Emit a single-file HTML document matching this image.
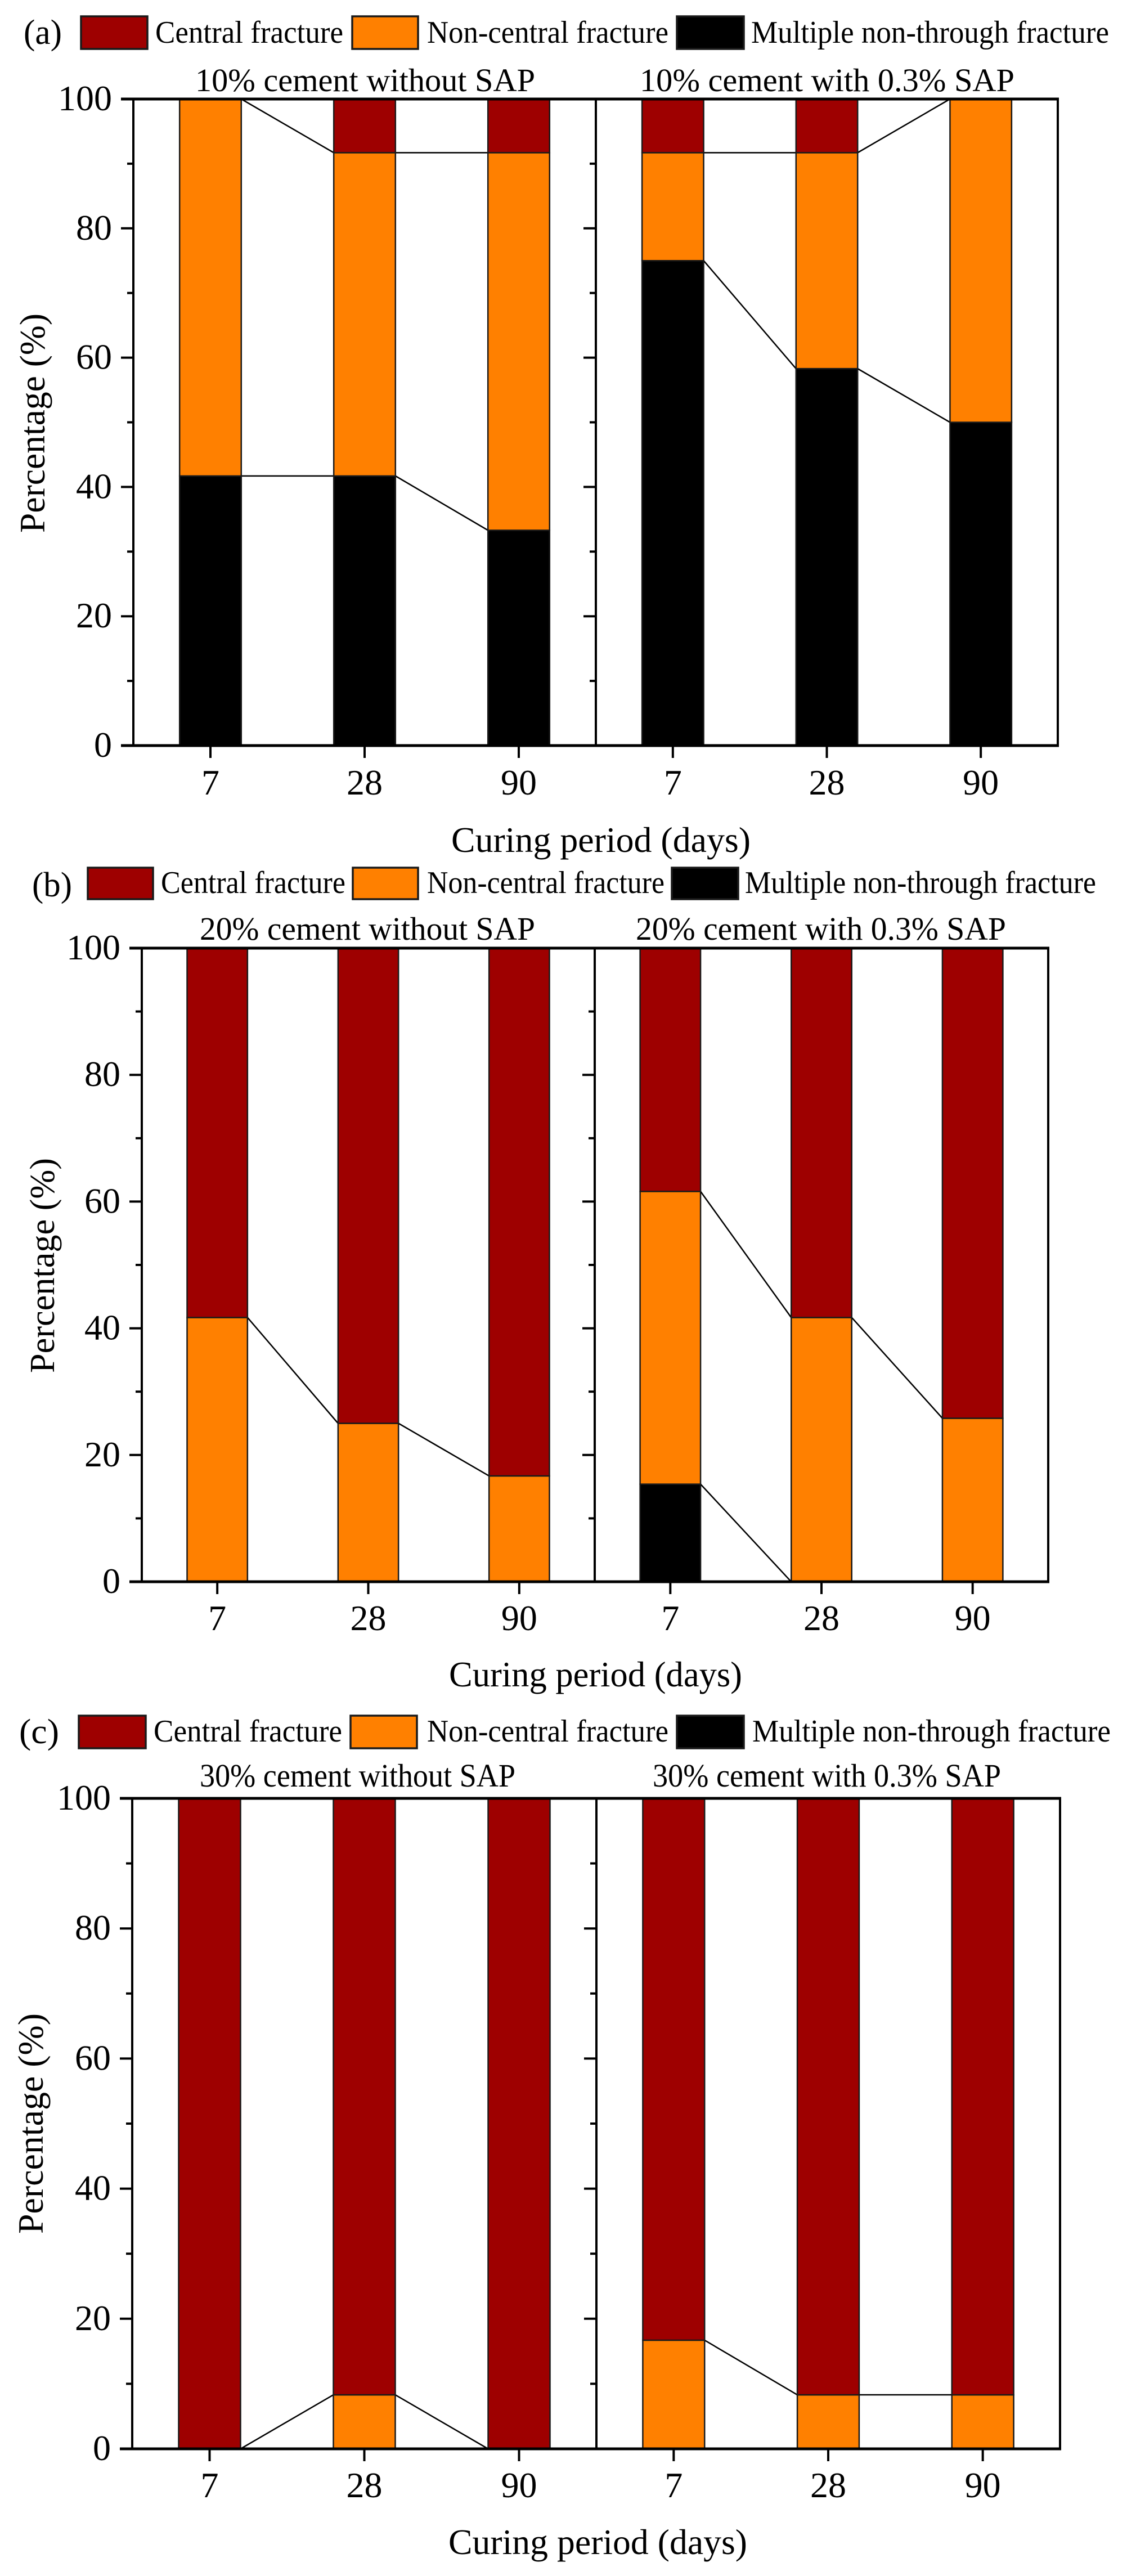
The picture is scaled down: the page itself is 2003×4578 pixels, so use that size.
<!DOCTYPE html>
<html lang="en">
<head>
<meta charset="utf-8">
<title>Fracture pattern percentages by curing period</title>
<style>
html,body{margin:0;padding:0;background:#fff;width:2003px;height:4578px;overflow:hidden}
svg{display:block}
text{font-family:"Liberation Serif","Times New Roman",serif;fill:#000}
</style>
</head>
<body>
<svg id="figure" xmlns="http://www.w3.org/2000/svg" width="2003" height="4578" viewBox="0 0 2003 4578"></svg>
<script>
const categories = ['7', '28', '90'];
const yTickLabels = [0, 20, 40, 60, 80, 100];
const yMinorTicks = [10, 30, 50, 70, 90];
const seriesNames = ['Central fracture', 'Non-central fracture', 'Multiple non-through fracture'];
const seriesColors = ['#9e0000', '#ff8000', '#000000'];
const yTitle = 'Percentage (%)';
const xTitle = 'Curing period (days)';

const a10NoSapMultiple = [41.7, 41.7, 33.3];
const a10NoSapNonCentral = [58.3, 50, 58.4];
const a10NoSapCentral = [0, 8.3, 8.3];
const a10SapMultiple = [75, 58.3, 50];
const a10SapNonCentral = [16.7, 33.4, 50];
const a10SapCentral = [8.3, 8.3, 0];

const b20NoSapMultiple = [0, 0, 0];
const b20NoSapNonCentral = [41.7, 25, 16.7];
const b20NoSapCentral = [58.3, 75, 83.3];
const b20SapMultiple = [15.4, 0, 0];
const b20SapNonCentral = [46.2, 41.7, 25.8];
const b20SapCentral = [38.4, 58.3, 74.2];

const c30NoSapMultiple = [0, 0, 0];
const c30NoSapNonCentral = [0, 8.3, 0];
const c30NoSapCentral = [100, 91.7, 100];
const c30SapMultiple = [0, 0, 0];
const c30SapNonCentral = [16.7, 8.3, 8.3];
const c30SapCentral = [83.3, 91.7, 91.7];

const figures = [
  {
    id: 'a', tag: '(a)', tagBox: [42, 110, 78], top: 176, bottom: 1325, left: 237, mid: 1059, right: 1880,
    yLabelRight: 199, xLabelBase: 1412, xTitleBox: [802, 1334, 1514], yTitleBox: [79, 557, 947], yTitleSize: 64,
    legend: { y0: 29, y1: 87, base: 76, swatches: [[144, 262], [626, 743], [1203, 1322]], labels: [[276, 610], [759, 1188], [1335, 1971]] },
    titles: [['10% cement without SAP', 347, 951, 162], ['10% cement with 0.3% SAP', 1137, 1803, 162]],
    data: [[a10NoSapMultiple, a10NoSapNonCentral, a10NoSapCentral], [a10SapMultiple, a10SapNonCentral, a10SapCentral]]
  },
  {
    id: 'b', tag: '(b)', tagBox: [57, 128, 1593], top: 1685, bottom: 2811, left: 252, mid: 1057, right: 1863,
    yLabelRight: 214, xLabelBase: 2897, xTitleBox: [798, 1319, 2997], yTitleBox: [96, 2058, 2440], yTitleSize: 62,
    legend: { y0: 1542, y1: 1598, base: 1587, swatches: [[156, 272], [627, 743], [1194, 1312]], labels: [[286, 614], [759, 1181], [1324, 1948]] },
    titles: [['20% cement without SAP', 355, 951, 1670], ['20% cement with 0.3% SAP', 1130, 1788, 1670]],
    data: [[b20NoSapMultiple, b20NoSapNonCentral, b20NoSapCentral], [b20SapMultiple, b20SapNonCentral, b20SapCentral]]
  },
  {
    id: 'c', tag: '(c)', tagBox: [34, 105, 3098], top: 3196, bottom: 4352, left: 235, mid: 1060, right: 1884,
    yLabelRight: 197, xLabelBase: 4438, xTitleBox: [797, 1328, 4539], yTitleBox: [76, 3578, 3970], yTitleSize: 64,
    legend: { y0: 3049, y1: 3107, base: 3095, swatches: [[140, 259], [623, 741], [1203, 1322]], labels: [[273, 608], [759, 1188], [1337, 1974]] },
    titles: [['30% cement without SAP', 355, 916, 3175], ['30% cement with 0.3% SAP', 1160, 1779, 3175]],
    data: [[c30NoSapMultiple, c30NoSapNonCentral, c30NoSapCentral], [c30SapMultiple, c30SapNonCentral, c30SapCentral]]
  }
];

const NS = 'http://www.w3.org/2000/svg';
const svg = document.getElementById('figure');

function makeText(parent, content, x, y, size, anchor, length) {
  const t = document.createElementNS(NS, 'text');
  t.textContent = content;
  t.setAttribute('x', x);
  t.setAttribute('y', y);
  t.setAttribute('font-size', size);
  t.setAttribute('text-anchor', anchor);
  if (length) {
    t.setAttribute('textLength', length);
    t.setAttribute('lengthAdjust', 'spacingAndGlyphs');
  }
  parent.appendChild(t);
  return t;
}
function makeLine(parent, x1, y1, x2, y2, width) {
  const l = document.createElementNS(NS, 'line');
  l.setAttribute('x1', x1);
  l.setAttribute('y1', y1);
  l.setAttribute('x2', x2);
  l.setAttribute('y2', y2);
  l.setAttribute('stroke', '#000');
  l.setAttribute('stroke-width', width);
  parent.appendChild(l);
  return l;
}
function makeRect(parent, x, y, w, h, fill, strokeWidth) {
  const r = document.createElementNS(NS, 'rect');
  r.setAttribute('x', x);
  r.setAttribute('y', y);
  r.setAttribute('width', w);
  r.setAttribute('height', h);
  r.setAttribute('fill', fill);
  r.setAttribute('stroke', '#1a1a1a');
  r.setAttribute('stroke-width', strokeWidth);
  parent.appendChild(r);
  return r;
}

figures.forEach(function (fig) {
  const group = document.createElementNS(NS, 'g');
  
  
  svg.appendChild(group);

  const tag = makeText(group, fig.tag, fig.tagBox[0], fig.tagBox[2], 62, 'start', fig.tagBox[1] - fig.tagBox[0]);
  
  

  seriesNames.forEach(function (name, i) {
    const sw = fig.legend.swatches[i];
    const swatch = makeRect(group, sw[0], fig.legend.y0, sw[1] - sw[0], fig.legend.y1 - fig.legend.y0, seriesColors[i], 3.5);
    
    
    const lb = fig.legend.labels[i];
    const label = makeText(group, name, lb[0], fig.legend.base, 56, 'start', lb[1] - lb[0]);
    
    
  });

  const yScale = function (v) { return fig.bottom + (fig.top - fig.bottom) * v / 100; };
  const bounds = [[fig.left, fig.mid], [fig.mid, fig.right]];

  bounds.forEach(function (b, side) {
    const xStep = (b[1] - b[0]) / categories.length;
    const xScale = function (i) { return b[0] + xStep * (i + 0.5); };
    const barWidth = xStep * 0.4;
    const stacks = fig.data[side];

    const ttl = fig.titles[side];
    const title = makeText(group, ttl[0], ttl[1], ttl[3], 58, 'start', ttl[2] - ttl[1]);
    
    

    categories.forEach(function (cat, i) {
      let base = 0;
      stacks.forEach(function (series, s) {
        const value = series[i];
        if (value > 0) {
          const rect = makeRect(group, xScale(i) - barWidth / 2, yScale(base + value), barWidth, yScale(base) - yScale(base + value), seriesColors[2 - s], 2.5);
          
          
        }
        if (i < categories.length - 1) {
          const top1 = stacks.slice(0, s + 1).reduce(function (sum, arr) { return sum + arr[i]; }, 0);
          const top2 = stacks.slice(0, s + 1).reduce(function (sum, arr) { return sum + arr[i + 1]; }, 0);
          const link = makeLine(group, xScale(i) + barWidth / 2, yScale(top1), xScale(i + 1) - barWidth / 2, yScale(top2), 2.5);
          
          
        }
        base += value;
      });

      const tick = makeLine(group, xScale(i), fig.bottom, xScale(i), fig.bottom + 22, 4);
      
      
      const tl = makeText(group, cat, xScale(i), fig.xLabelBase, 64, 'middle');
      
      
    });

    yTickLabels.forEach(function (v) {
      const tick = makeLine(group, b[0] - 22, yScale(v), b[0], yScale(v), 4);
      
      
      if (side === 0) {
        const tl = makeText(group, String(v), fig.yLabelRight, yScale(v) + 20, 64, 'end');
        
        
      }
    });
    yMinorTicks.forEach(function (v) {
      const tick = makeLine(group, b[0] - 11, yScale(v), b[0], yScale(v), 4);
      
      
    });

    [b[0], b[1]].forEach(function (x, j) {
      const edge = makeLine(group, x, fig.top, x, fig.bottom, 4);
      
      
    });
  });

  const topAxis = makeLine(group, fig.left - 22, fig.top, fig.right + 2, fig.top, 5);
  
  
  const bottomAxis = makeLine(group, fig.left - 22, fig.bottom, fig.right + 2, fig.bottom, 5);
  
  

  const xt = makeText(group, xTitle, fig.xTitleBox[0], fig.xTitleBox[2], 64, 'start', fig.xTitleBox[1] - fig.xTitleBox[0]);
  
  

  const yt = makeText(group, yTitle, 0, 0, fig.yTitleSize, 'start', fig.yTitleBox[2] - fig.yTitleBox[1]);
  yt.setAttribute('transform', 'translate(' + fig.yTitleBox[0] + ' ' + fig.yTitleBox[2] + ') rotate(-90)');
  
  
});
</script>
</body>
</html>
